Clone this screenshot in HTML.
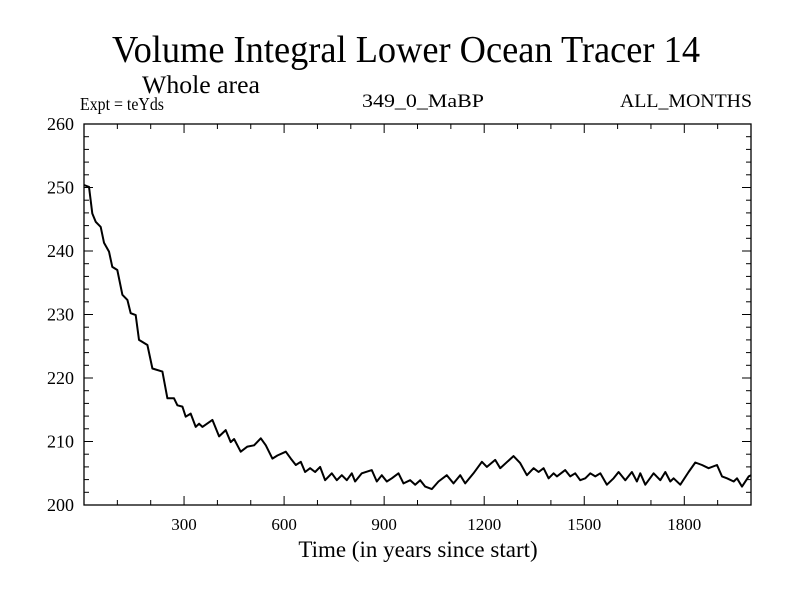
<!DOCTYPE html>
<html><head><meta charset="utf-8"><style>
html,body{margin:0;padding:0;background:#fff;}
svg{display:block;font-family:"Liberation Serif",serif;}
</style></head><body>
<svg id="chart" width="800" height="600" viewBox="0 0 800 600" xmlns="http://www.w3.org/2000/svg">
<text x="112" y="62" font-size="38" textLength="588" lengthAdjust="spacingAndGlyphs">Volume Integral Lower Ocean Tracer 14</text>
<text x="142" y="93" font-size="25" textLength="118" lengthAdjust="spacingAndGlyphs">Whole area</text>
<text x="80" y="110" font-size="18" textLength="84" lengthAdjust="spacingAndGlyphs">Expt = teYds</text>
<text x="362" y="107" font-size="19" textLength="122" lengthAdjust="spacingAndGlyphs">349_0_MaBP</text>
<text x="620" y="107" font-size="19" textLength="132" lengthAdjust="spacingAndGlyphs">ALL_MONTHS</text>
<text x="418" y="557" font-size="23" text-anchor="middle">Time (in years since start)</text>
<g id="ticks"></g>
<g id="labels" font-size="18"></g>
<path id="series" fill="none" stroke="#000" stroke-width="2" stroke-linejoin="round"/>
<rect x="84" y="124" width="667" height="381" fill="none" stroke="#000" stroke-width="1.3"/>
</svg>
<script>
const years = [0,15,25,35,50,60,75,85,100,115,130,140,155,165,190,205,235,250,270,280,295,305,320,335,345,355,385,405,425,440,450,470,490,510,530,545,565,580,605,620,635,650,663,678,693,708,723,743,758,773,788,803,813,833,863,878,893,908,923,943,958,978,993,1008,1023,1043,1063,1088,1108,1128,1143,1168,1193,1208,1233,1248,1288,1308,1328,1348,1363,1378,1393,1408,1418,1443,1458,1473,1488,1503,1518,1533,1548,1568,1588,1603,1623,1643,1658,1668,1683,1708,1728,1743,1758,1768,1788,1813,1833,1853,1873,1898,1913,1928,1948,1958,1973,1993,2000];
const values = [250.4,250.1,245.9,244.6,243.8,241.3,239.9,237.5,237.0,233.1,232.3,230.2,229.9,226.0,225.2,221.5,221.0,216.8,216.8,215.7,215.5,213.9,214.4,212.3,212.8,212.3,213.4,210.8,211.8,209.9,210.4,208.4,209.2,209.4,210.5,209.4,207.3,207.8,208.4,207.3,206.3,206.8,205.2,205.8,205.2,206.0,203.9,205.0,203.9,204.7,203.9,205.0,203.7,205.0,205.5,203.7,204.7,203.7,204.2,205.0,203.4,203.9,203.2,203.9,202.9,202.5,203.7,204.7,203.4,204.7,203.4,205.0,206.8,206.0,207.1,205.8,207.7,206.6,204.7,205.8,205.2,205.8,204.2,205.0,204.5,205.5,204.5,205.0,203.9,204.2,205.0,204.5,205.0,203.2,204.2,205.2,203.9,205.2,203.7,205.0,203.2,205.0,203.9,205.2,203.7,204.2,203.2,205.2,206.7,206.3,205.8,206.3,204.5,204.2,203.7,204.2,202.9,204.5,204.7];
const xTicks = [300,600,900,1200,1500,1800];
const yTicks = [200,210,220,230,240,250,260];
const X0=84,X1=751,Y0=505,Y1=124;
const sx = v => X0 + (v-0)/(2000-0)*(X1-X0);
const sy = v => Y0 - (v-200)/(260-200)*(Y0-Y1);
const NS="http://www.w3.org/2000/svg";
const tg=document.getElementById('ticks'), lg=document.getElementById('labels');
function line(x1,y1,x2,y2,name){const l=document.createElementNS(NS,'line');
l.setAttribute('x1',x1);l.setAttribute('y1',y1);l.setAttribute('x2',x2);l.setAttribute('y2',y2);
l.setAttribute('stroke','#000');l.setAttribute('stroke-width','1');


tg.appendChild(l);}
for(let v=100;v<2000;v+=100){const x=sx(v),len=(v%300===0)?9:5;
line(x,Y0,x,Y0-len,'x-tick');line(x,Y1,x,Y1+len,'x-tick-top');}
for(let v=202;v<260;v+=2){const y=sy(v),len=(v%10===0)?9:5;
line(X0,y,X0+len,y,'y-tick');line(X1,y,X1-len,y,'y-tick-right');}
xTicks.forEach(v=>{const t=document.createElementNS(NS,'text');
t.setAttribute('x',sx(v));t.setAttribute('y',530);t.setAttribute('text-anchor','middle');t.setAttribute('font-size','17');t.textContent=v;


lg.appendChild(t);});
yTicks.forEach(v=>{const t=document.createElementNS(NS,'text');
t.setAttribute('x',74);t.setAttribute('y',sy(v)+6);t.setAttribute('text-anchor','end');t.textContent=v;


lg.appendChild(t);});
document.getElementById('series').setAttribute('d',years.map((y,i)=>(i?'L':'M')+sx(y).toFixed(1)+','+sy(values[i]).toFixed(1)).join(''));
</script>
</body></html>
